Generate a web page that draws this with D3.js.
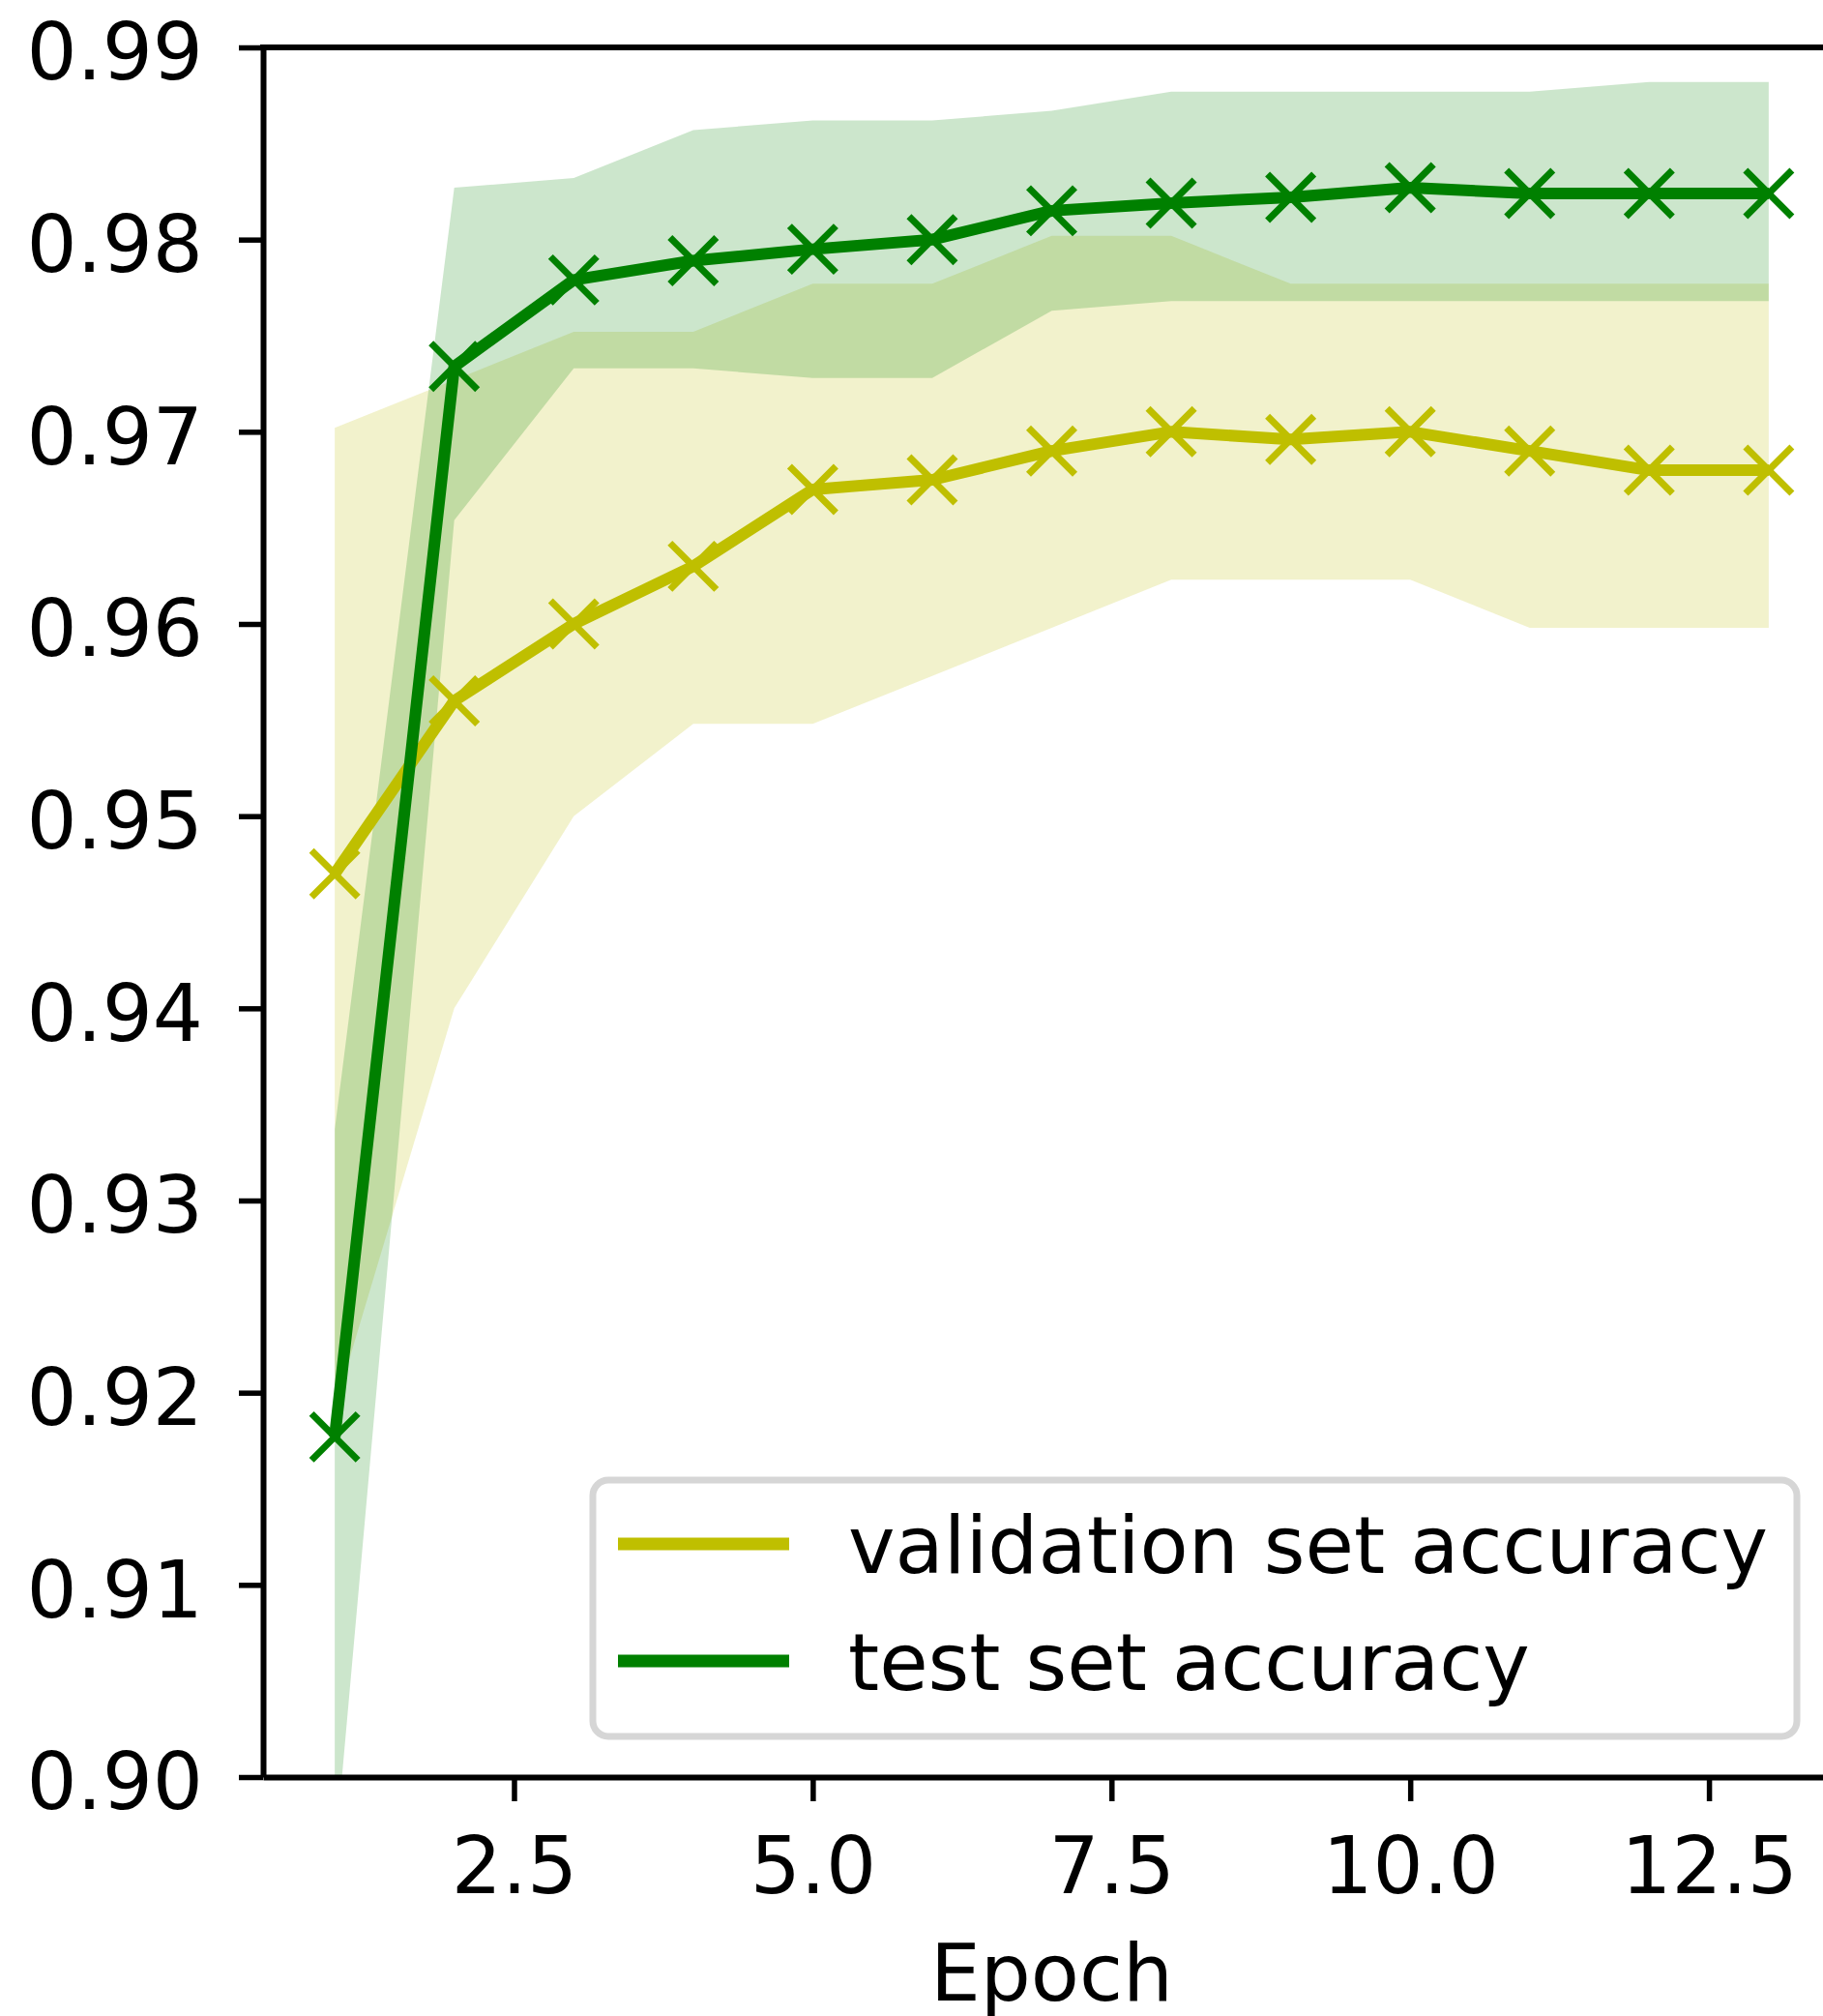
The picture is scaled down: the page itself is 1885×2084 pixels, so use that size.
<!DOCTYPE html>
<html>
<head>
<meta charset="utf-8">
<script src="https://cdn.jsdelivr.net/npm/d3@7"></script>
<style>
  body { margin: 0; background: #fff; }
  svg { display: block; font-family: "DejaVu Sans", sans-serif; }
</style>
</head>
<body>
<div id="chart"></div>
<script>
// epochs and accuracy bands
var epochs = [1, 2, 3, 4, 5, 6, 7, 8, 9, 10, 11, 12, 13];

var valMean  = [0.9470, 0.9560, 0.9600, 0.9630, 0.9670, 0.9675, 0.9690, 0.9700, 0.9696, 0.9700, 0.9690, 0.9680, 0.9680];
var valUpper = [0.9702, 0.9727, 0.9752, 0.9752, 0.9777, 0.9777, 0.9802, 0.9802, 0.9777, 0.9777, 0.9777, 0.9777, 0.9777];
var valLower = [0.9192, 0.9400, 0.9500, 0.9548, 0.9548, 0.9573, 0.9598, 0.9623, 0.9623, 0.9623, 0.9598, 0.9598, 0.9598];

var testMean  = [0.9177, 0.9734, 0.9779, 0.9789, 0.9795, 0.9800, 0.9815, 0.9819, 0.9822, 0.9827, 0.9824, 0.9824, 0.9824];
var testUpper = [0.9337, 0.9827, 0.9832, 0.9857, 0.9862, 0.9862, 0.9867, 0.9877, 0.9877, 0.9877, 0.9877, 0.9882, 0.9882];
var testLower = [0.8958, 0.9654, 0.9733, 0.9733, 0.9728, 0.9728, 0.9763, 0.9768, 0.9768, 0.9768, 0.9768, 0.9768, 0.9768];

var xTicks = [2.5, 5.0, 7.5, 10.0, 12.5];
var yTicks = [0.90, 0.91, 0.92, 0.93, 0.94, 0.95, 0.96, 0.97, 0.98, 0.99];
var seriesNames = ["validation set accuracy", "test set accuracy"];

var W = 1885, H = 2084,
    plotLeft = 272, plotRight = 1903, plotTop = 49, plotBottom = 1837,
    fontSize = 82;

var svg = d3.select("#chart").append("svg")
    .attr("width", W)
    .attr("height", H);

svg.append("rect").attr("width", W).attr("height", H).attr("fill", "#fff");

var x = d3.scaleLinear().domain([0.4, 13.6]).range([plotLeft, plotRight]);
var y = d3.scaleLinear().domain([0.90, 0.99]).range([plotBottom, plotTop]);

svg.append("clipPath").attr("id", "plotclip")
    .append("rect")
    .attr("x", plotLeft).attr("y", plotTop)
    .attr("width", plotRight - plotLeft).attr("height", plotBottom - plotTop);

var series = [
    {name: seriesNames[0], color: "#bfbf00", mean: valMean, lo: valLower, hi: valUpper},
    {name: seriesNames[1], color: "#008000", mean: testMean, lo: testLower, hi: testUpper}
];

var plot = svg.append("g").attr("clip-path", "url(#plotclip)");

var area = d3.area()
    .x(function(d) { return x(d.e); })
    .y0(function(d) { return y(d.lo); })
    .y1(function(d) { return y(d.hi); });

var line = d3.line()
    .x(function(d) { return x(d.e); })
    .y(function(d) { return y(d.v); });

// bands first
series.forEach(function(s) {
    var pts = epochs.map(function(e, i) { return {e: e, lo: s.lo[i], hi: s.hi[i]}; });
    plot.append("path")
        .datum(pts)
        .attr("d", area)
        .attr("fill", s.color)
        .attr("fill-opacity", 0.2);
});

// then lines + x markers
series.forEach(function(s) {
    var pts = epochs.map(function(e, i) { return {e: e, v: s.mean[i]}; });
    svg.append("path")
        .datum(pts)
        .attr("d", line)
        .attr("fill", "none")
        .attr("stroke", s.color)
        .attr("stroke-width", 12)
        .attr("stroke-linejoin", "round");

    var m = svg.append("g").selectAll("g")
        .data(pts)
        .enter().append("g")
        .attr("transform", function(d) { return "translate(" + x(d.e) + "," + y(d.v) + ")"; });
    var r = 24;
    m.append("line").attr("x1", -r).attr("y1", -r).attr("x2", r).attr("y2", r);
    m.append("line").attr("x1", -r).attr("y1", r).attr("x2", r).attr("y2", -r);
    m.selectAll("line")
        .attr("stroke", s.color)
        .attr("stroke-width", 7);
});

// axes
var yAxis = d3.axisLeft(y)
    .tickValues(yTicks)
    .tickFormat(d3.format(".2f"))
    .tickSize(25)
    .tickSizeOuter(0)
    .tickPadding(37);

var xAxis = d3.axisBottom(x)
    .tickValues(xTicks)
    .tickFormat(d3.format(".1f"))
    .tickSize(25)
    .tickSizeOuter(0)
    .tickPadding(37);

var gy = svg.append("g")
    .attr("transform", "translate(" + plotLeft + ",0)")
    .call(yAxis);
var gx = svg.append("g")
    .attr("transform", "translate(0," + plotBottom + ")")
    .call(xAxis);

[gx, gy].forEach(function(g) {
    g.selectAll(".domain").attr("stroke", "#000").attr("stroke-width", 6);
    g.selectAll(".tick line").attr("stroke", "#000").attr("stroke-width", 5.5);
    g.selectAll(".tick text")
        .attr("fill", "#000")
        .style("font-family", "DejaVu Sans")
        .style("font-size", fontSize + "px");
});
gy.selectAll(".tick text").attr("dy", "0.4em");

// top spine
svg.append("line")
    .attr("x1", plotLeft - 3).attr("x2", plotRight)
    .attr("y1", plotTop).attr("y2", plotTop)
    .attr("stroke", "#000").attr("stroke-width", 6);

svg.append("text")
    .attr("x", (plotLeft + plotRight) / 2)
    .attr("y", 2068)
    .attr("text-anchor", "middle")
    .style("font-size", fontSize + "px")
    .text("Epoch");

// legend
var legend = svg.append("g");
legend.append("rect")
    .attr("x", 613).attr("y", 1530)
    .attr("width", 1245).attr("height", 265)
    .attr("rx", 16).attr("ry", 16)
    .attr("fill", "#fff")
    .attr("stroke", "#d6d6d6")
    .attr("stroke-width", 7);

var item = legend.selectAll("g.item")
    .data(series)
    .enter().append("g")
    .attr("class", "item")
    .attr("transform", function(d, i) { return "translate(0," + (1596 + i * 121) + ")"; });

item.append("line")
    .attr("x1", 639).attr("x2", 816)
    .attr("stroke", function(d) { return d.color; })
    .attr("stroke-width", 13);

item.append("text")
    .attr("x", 877)
    .attr("y", 30)
    .style("font-size", fontSize + "px")
    .text(function(d) { return d.name; });
</script>
</body>
</html>
